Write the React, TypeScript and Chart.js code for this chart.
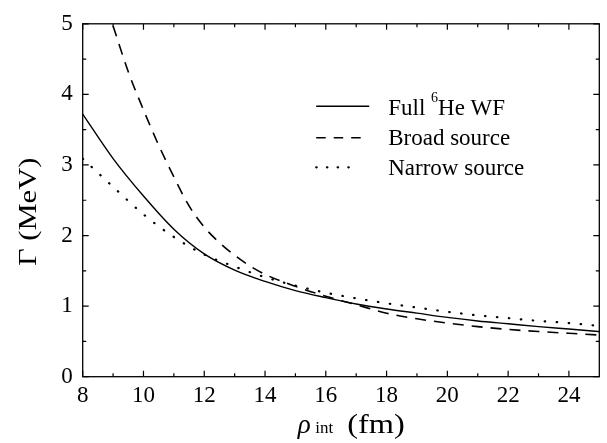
import { useEffect, useRef } from 'react';
import { Chart, registerables } from 'chart.js';

Chart.register(...registerables);

// Resonance width Γ (MeV) versus interaction radius ρ_int (fm)
const rhoFull = [8, 9, 10, 11, 12, 13, 14, 15, 16, 17, 18, 19, 20, 21, 22, 23, 24, 25];
const gammaFull = [3.72, 3.09, 2.56, 2.09, 1.74, 1.51, 1.35, 1.22, 1.12, 1.03, 0.96, 0.9, 0.84, 0.79, 0.75, 0.71, 0.675, 0.64];

const rhoBroad = [9, 9.5, 10, 10.5, 11, 11.5, 12, 12.5, 13, 13.5, 14, 15, 16, 17, 18, 19, 20, 21, 22, 23, 24, 25];
const gammaBroad = [4.97, 4.32, 3.78, 3.28, 2.83, 2.42, 2.12, 1.9, 1.72, 1.57, 1.45, 1.28, 1.14, 1.02, 0.9, 0.82, 0.76, 0.71, 0.67, 0.64, 0.615, 0.59];

const rhoNarrow = [8, 9, 10, 11, 12, 13, 14, 15, 16, 17, 18, 19, 20, 21, 22, 23, 24, 25];
const gammaNarrow = [3.09, 2.69, 2.3, 1.98, 1.73, 1.56, 1.41, 1.29, 1.19, 1.11, 1.04, 0.98, 0.92, 0.87, 0.83, 0.79, 0.76, 0.72];

const xMajorTicks = [8, 10, 12, 14, 16, 18, 20, 22, 24];
const xMinorTicks = [9, 11, 13, 15, 17, 19, 21, 23];
const yMajorTicks = [0, 1, 2, 3, 4, 5];
const yMinorTicks = [0.5, 1.5, 2.5, 3.5, 4.5];

const FONT = '"Liberation Serif"';

// legend sample: length and dash pattern for each series
const legendLength = [53, 46, 42];
const legendDash = [[], [9.5, 8], [0.5, 10.2]];

const toPoints = (xs: number[], ys: number[]) => xs.map((x, i) => ({ x, y: ys[i] }));

// Frame with inward-pointing ticks on all four sides
const framePlugin = {
  id: 'frameTicks',
  afterDraw(chart: any) {
    const { ctx, chartArea: a, scales } = chart;
    const xs = scales.x;
    const ys = scales.y;
    ctx.save();
    ctx.strokeStyle = '#000';
    ctx.lineWidth = 1.3;
    ctx.strokeRect(a.left, a.top, a.right - a.left, a.bottom - a.top);
    ctx.lineWidth = 1.2;
    ctx.beginPath();
    const xTick = (v: number, len: number) => {
      const p = xs.getPixelForValue(v);
      ctx.moveTo(p, a.bottom);
      ctx.lineTo(p, a.bottom - len);
      ctx.moveTo(p, a.top);
      ctx.lineTo(p, a.top + len);
    };
    const yTick = (v: number, len: number) => {
      const p = ys.getPixelForValue(v);
      ctx.moveTo(a.left, p);
      ctx.lineTo(a.left + len, p);
      ctx.moveTo(a.right, p);
      ctx.lineTo(a.right - len, p);
    };
    xMajorTicks.forEach((v) => xTick(v, 6));
    xMinorTicks.forEach((v) => xTick(v, 3.5));
    yMajorTicks.forEach((v) => yTick(v, 6));
    yMinorTicks.forEach((v) => yTick(v, 3.5));
    ctx.stroke();
    ctx.restore();
  },
};

// Axis titles and the legend box
const annotationPlugin = {
  id: 'titlesLegend',
  afterDraw(chart: any) {
    const { ctx, chartArea: a } = chart;
    ctx.save();
    ctx.fillStyle = '#000';

    // y title, set in a wide serif face
    ctx.save();
    ctx.translate(a.left - 46.5, a.top + 188);
    ctx.rotate(-Math.PI / 2);
    ctx.scale(1.22, 1);
    ctx.textAlign = 'center';
    ctx.textBaseline = 'alphabetic';
    ctx.font = `25px ${FONT}`;
    ctx.fillText('Γ (MeV)', 0, 0);
    ctx.restore();

    // x title: ρ_int (fm)
    const base = a.bottom + 56.5;
    ctx.textBaseline = 'alphabetic';
    ctx.textAlign = 'left';
    ctx.font = `italic 27px ${FONT}`;
    ctx.fillText('ρ', a.left + 215, base);
    ctx.font = `17px ${FONT}`;
    ctx.fillText('int', a.left + 232.5, base);
    ctx.save();
    ctx.translate(a.left + 264.5, base);
    ctx.scale(1.2, 1);
    ctx.font = `27px ${FONT}`;
    ctx.fillText('(fm)', 0, 0);
    ctx.restore();

    // legend
    const lx0 = a.left + 233.5;
    const tx = a.left + 305.5;
    const rows = [a.top + 82.5, a.top + 114, a.top + 143.5];
    chart.data.datasets.forEach((ds: any, i: number) => {
      const y = rows[i];
      ctx.save();
      ctx.strokeStyle = ds.borderColor;
      ctx.lineWidth = ds.borderWidth;
      ctx.setLineDash(legendDash[i]);
      ctx.lineCap = ds.borderCapStyle || 'butt';
      ctx.beginPath();
      ctx.moveTo(lx0, y);
      ctx.lineTo(lx0 + legendLength[i], y);
      ctx.stroke();
      ctx.restore();
      ctx.font = `23px ${FONT}`;
      ctx.textBaseline = 'alphabetic';
      if (i === 0) {
        let x = tx;
        ctx.fillText('Full ', x, y + 8.5);
        x += ctx.measureText('Full ').width;
        ctx.font = `14px ${FONT}`;
        ctx.fillText('6', x, y - 4);
        x += ctx.measureText('6').width;
        ctx.font = `23px ${FONT}`;
        ctx.fillText('He WF', x, y + 8.5);
      } else {
        ctx.fillText(ds.label, tx, y + 7.5);
      }
    });
    ctx.restore();
  },
};

export default function App() {
  const canvasRef = useRef<HTMLCanvasElement | null>(null);

  useEffect(() => {
    const canvas = canvasRef.current;
    if (!canvas) return;
    const chart = new Chart(canvas, {
      type: 'line',
      data: {
        datasets: [
          {
            label: 'Full 6He WF',
            data: toPoints(rhoFull, gammaFull),
            borderColor: '#000',
            borderWidth: 1.4,
            pointRadius: 0,
            fill: false,
            cubicInterpolationMode: 'monotone',
          },
          {
            label: 'Broad source',
            data: toPoints(rhoBroad, gammaBroad),
            borderColor: '#000',
            borderWidth: 1.6,
            borderDash: [11, 8],
            pointRadius: 0,
            fill: false,
            cubicInterpolationMode: 'monotone',
          },
          {
            label: 'Narrow source',
            data: toPoints(rhoNarrow, gammaNarrow),
            borderColor: '#000',
            borderWidth: 2.2,
            borderDash: [0.5, 11.5],
            borderCapStyle: 'round',
            pointRadius: 0,
            fill: false,
            cubicInterpolationMode: 'monotone',
          },
        ],
      },
      options: {
        animation: false,
        responsive: false,
        devicePixelRatio: 1,
        layout: { padding: { top: 16.7, right: 7.7, left: 0, bottom: 0 } },
        plugins: { legend: { display: false }, tooltip: { enabled: false } },
        scales: {
          x: {
            type: 'linear',
            min: 8,
            max: 25,
            grid: { display: false, drawTicks: false },
            border: { display: false },
            ticks: { font: { family: FONT, size: 23 }, color: '#000', padding: 5, maxRotation: 0, autoSkip: false },
            afterBuildTicks: (s: any) => {
              s.ticks = xMajorTicks.map((value) => ({ value }));
            },
            afterFit: (s: any) => {
              s.height = 66.3;
            },
          },
          y: {
            type: 'linear',
            min: 0,
            max: 5,
            grid: { display: false, drawTicks: false },
            border: { display: false },
            ticks: { font: { family: FONT, size: 23 }, color: '#000', padding: 10 },
            afterBuildTicks: (s: any) => {
              s.ticks = yMajorTicks.map((value) => ({ value }));
            },
            afterFit: (s: any) => {
              s.width = 82.7;
            },
          },
        },
      },
      plugins: [framePlugin, annotationPlugin],
    } as any);
    return () => chart.destroy();
  }, []);

  return (
    <div style={{ position: 'fixed', left: 0, top: 0, width: 607, height: 443, background: '#fff' }}>
      <canvas ref={canvasRef} width={607} height={443} style={{ display: 'block' }} />
    </div>
  );
}
